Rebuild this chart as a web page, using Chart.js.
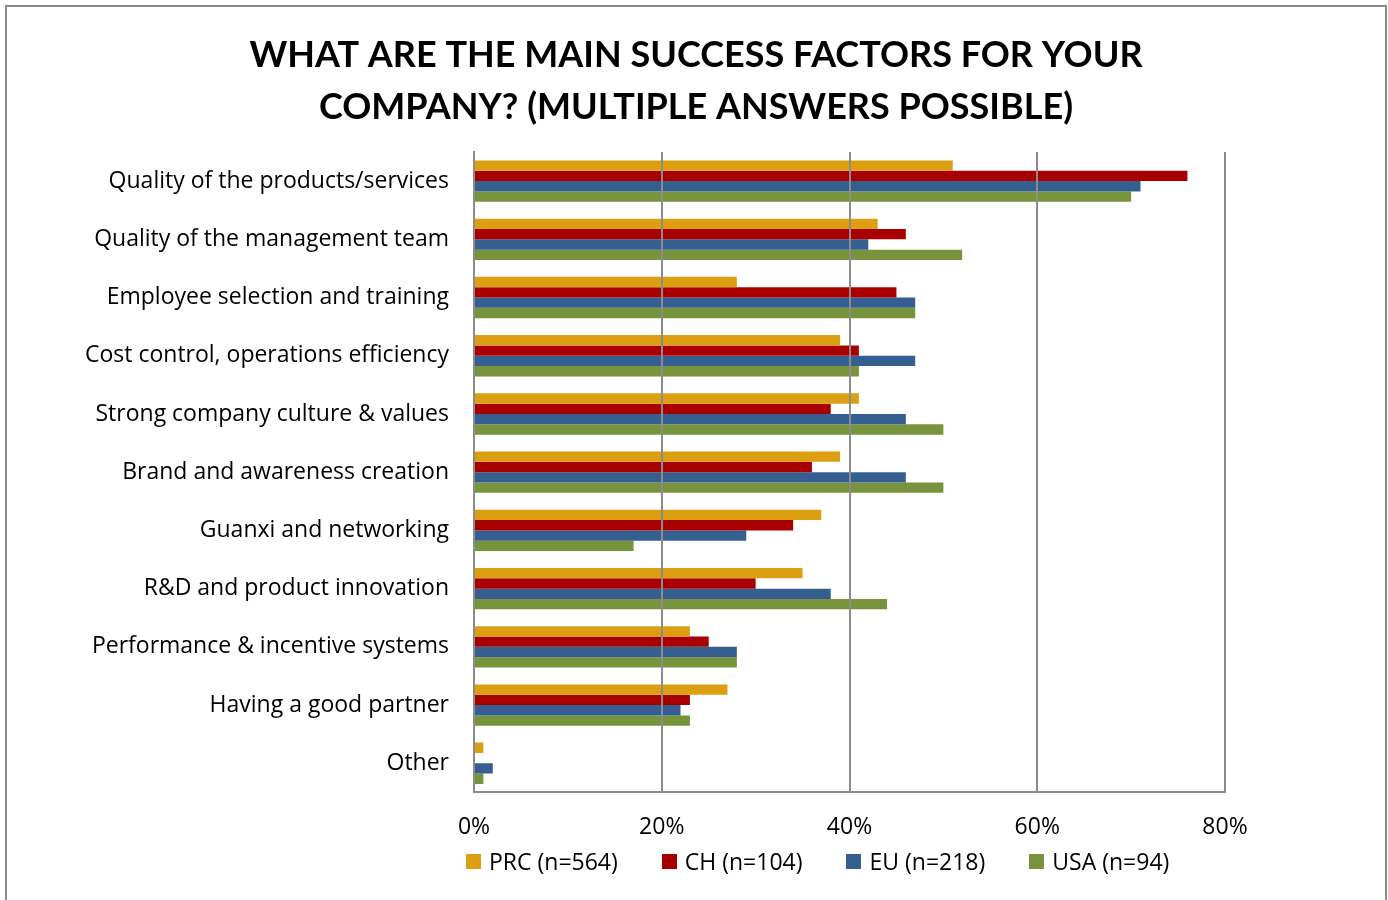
<!DOCTYPE html>
<html>
<head>
<meta charset="utf-8">
<script src="https://cdn.jsdelivr.net/npm/chart.js@4.4.1/dist/chart.umd.min.js"></script>
<style>
  body { margin: 0; background: #fff; }
  #frame {
    position: absolute; left: 5px; top: 5px;
    width: 1378px; height: 900px;
    border: 2px solid #8a8a8a; background: #fff;
  }
  #wrap { position: absolute; left: 0; top: 0; width: 1378px; height: 893px; }
  #legend {
    position: absolute; left: 459px; top: 838px;
    display: flex; gap: 44px;
    font: 23px "Open Sans", sans-serif; color: #000;
  }
  #legend span.item { display: flex; align-items: center; }
  #legend i { display: inline-block; width: 15px; height: 15px; margin-right: 8px; }
</style>
</head>
<body>
<div id="frame">
  <div id="wrap"><canvas id="factors"></canvas></div>
  <div id="legend"></div>
</div>
<script>
const categories = [
  "Quality of the products/services",
  "Quality of the management team",
  "Employee selection and training",
  "Cost control, operations efficiency",
  "Strong company culture & values",
  "Brand and awareness creation",
  "Guanxi and networking",
  "R&D and product innovation",
  "Performance & incentive systems",
  "Having a good partner",
  "Other"
];

const seriesNames = ["PRC (n=564)", "CH (n=104)", "EU (n=218)", "USA (n=94)"];
const seriesColors = ["#DD9F12", "#A80000", "#355F91", "#77933C"];

// shares in percent, one value per category
const prc = [51, 43, 28, 39, 41, 39, 37, 35, 23, 27, 1];
const ch  = [76, 46, 45, 41, 38, 36, 34, 30, 25, 23, 0];
const eu  = [71, 42, 47, 47, 46, 46, 29, 38, 28, 22, 2];
const usa = [70, 52, 47, 41, 50, 50, 17, 44, 28, 23, 1];

const xTicks = [0, 20, 40, 60, 80];

const titleLines = [
  "WHAT ARE THE MAIN SUCCESS FACTORS FOR YOUR",
  "COMPANY? (MULTIPLE ANSWERS POSSIBLE)"
];

const values = [prc, ch, eu, usa];
const gray = "#8c8c8c";
const labelFont = { family: "Open Sans", size: 23 };

// the right padding keeps the plot narrow, but the title is centred on the whole canvas
const centerTitle = {
  id: "centerTitle",
  afterLayout(chart) {
    if (chart.titleBlock) {
      chart.titleBlock.left = 0;
      chart.titleBlock.right = chart.width;
    }
  }
};

const ctx = document.getElementById("factors");

new Chart(ctx, {
  type: "bar",
  data: {
    labels: categories,
    datasets: seriesNames.map((name, i) => ({
      label: name,
      data: values[i],
      backgroundColor: seriesColors[i],
      borderWidth: 0,
      categoryPercentage: 0.71,
      barPercentage: 1.0
    }))
  },
  plugins: [centerTitle],
  options: {
    indexAxis: "y",
    responsive: true,
    maintainAspectRatio: false,
    animation: false,
    layout: { padding: { left: 0, right: 160, top: 0, bottom: 38 } },
    plugins: {
      legend: { display: false },
      tooltip: { enabled: false },
      title: {
        display: true,
        text: titleLines,
        color: "#000",
        font: { family: "Lato", size: 36, weight: "bold", lineHeight: 1.444 },
        padding: { top: 22, bottom: 19 }
      }
    },
    scales: {
      x: {
        min: 0,
        max: 80,
        afterBuildTicks: (scale) => { scale.ticks = xTicks.map(v => ({ value: v })); },
        ticks: {
          color: "#000",
          font: labelFont,
          padding: 21,
          callback: (v) => v + "%"
        },
        grid: { color: gray, lineWidth: 2, drawTicks: false, z: 1 },
        border: { display: true, color: gray, width: 2, z: 1 }
      },
      y: {
        afterFit: (scale) => { scale.width = 467; },
        ticks: {
          color: "#000",
          font: labelFont,
          padding: 25,
          autoSkip: false
        },
        grid: { display: false, drawTicks: false },
        border: { display: true, color: gray, width: 2 }
      }
    }
  }
});

// legend built from the same series names and colours
const legendEl = document.getElementById("legend");
seriesNames.forEach((name, i) => {
  const item = document.createElement("span");
  item.className = "item";
  const box = document.createElement("i");
  box.style.background = seriesColors[i];
  item.appendChild(box);
  item.appendChild(document.createTextNode(name));
  legendEl.appendChild(item);
});
</script>
</body>
</html>
